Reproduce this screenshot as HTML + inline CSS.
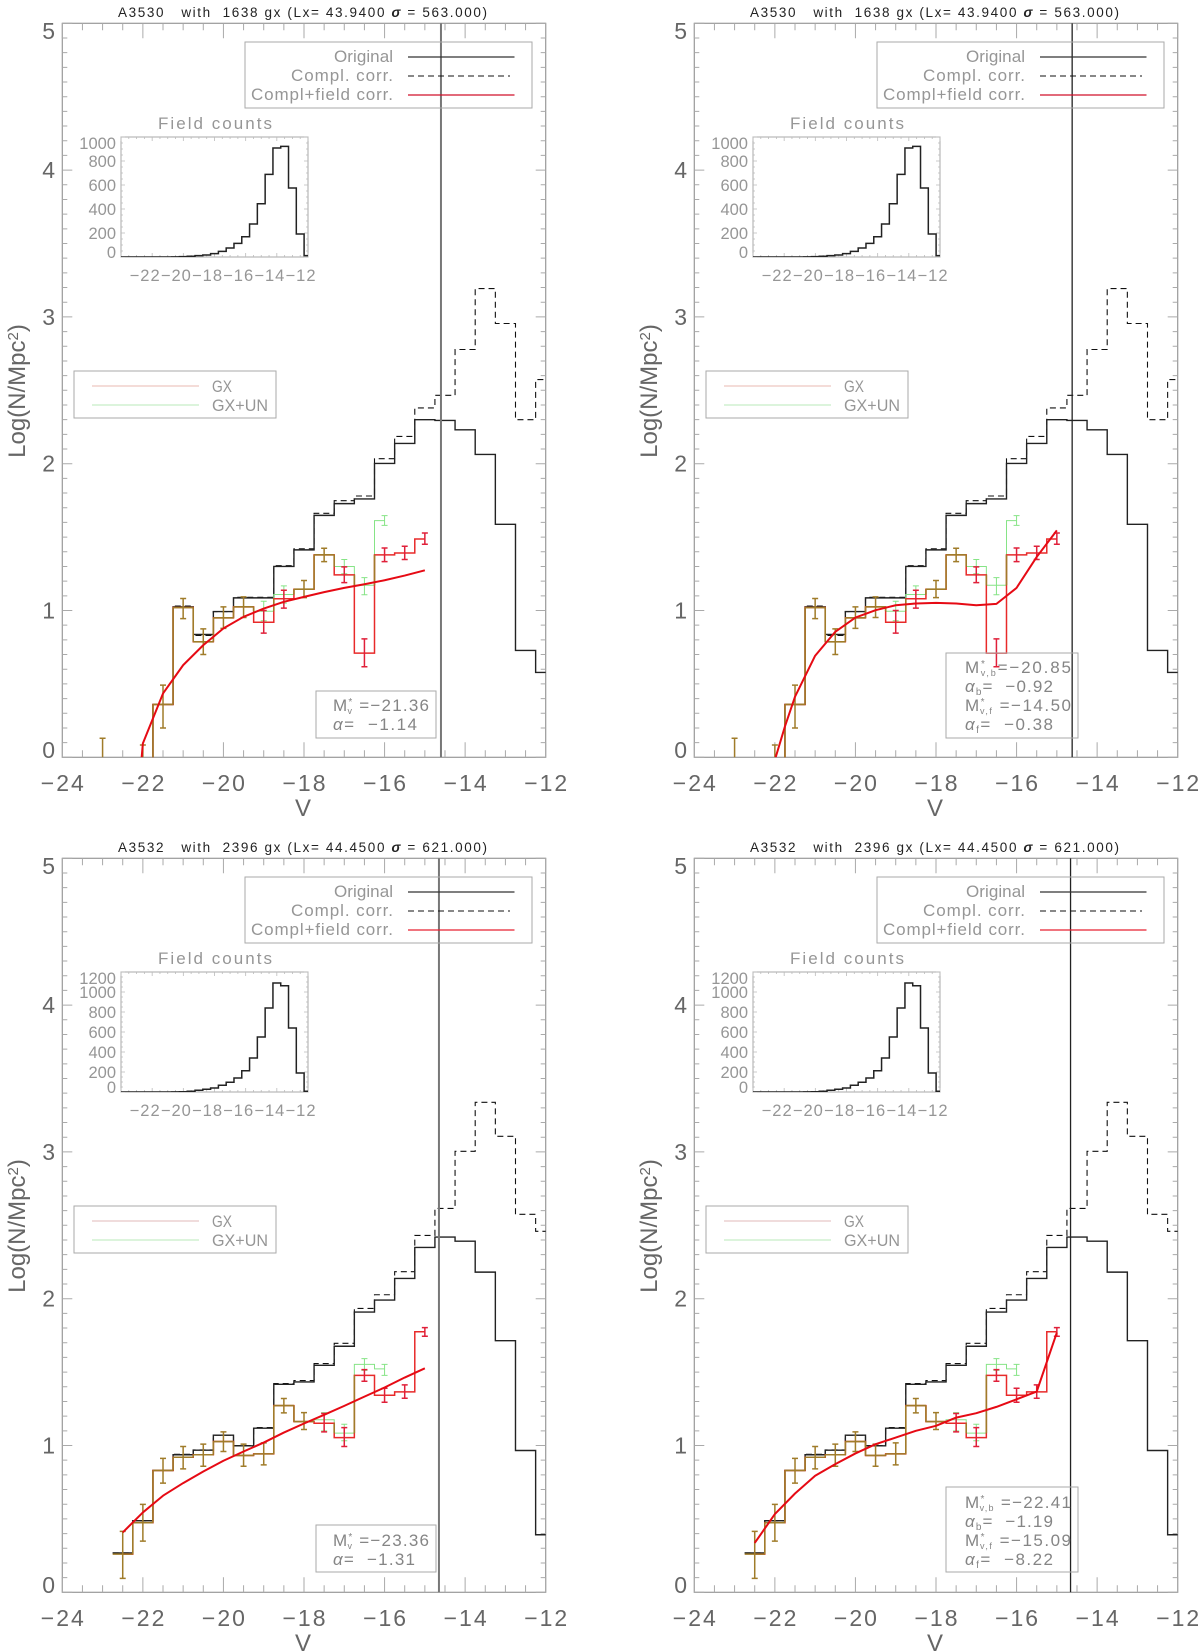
<!DOCTYPE html>
<html lang="en">
<head>
<meta charset="utf-8">
<title>Cluster luminosity functions</title>
<style>
html,body{margin:0;padding:0;background:#fff}
svg{display:block}
text{font-family:"Liberation Sans",sans-serif;white-space:pre}
.title{font-size:13.5px;fill:#222}
.axis-title{font-size:24px;fill:#666}
.legend{font-size:17px;fill:#969696}
.info{font-size:17px;fill:#858585}
.tick{font-size:23px;fill:#666}
.inset-tick{font-size:16.5px;fill:#969696}
.box{fill:none;stroke:#aaa;stroke-width:1}
</style>
</head>
<body>
<svg id="figure" xmlns="http://www.w3.org/2000/svg" width="1200" height="1652" viewBox="0 0 1200 1652">
<rect width="1200" height="1652" fill="#fff"/>
<defs><clipPath id="plot-clip"><rect x="62.3" y="23.3" width="483.4" height="734"/></clipPath><clipPath id="inset-clip"><rect x="121" y="137" width="187" height="120"/></clipPath></defs>

<g id="panel-0" transform="translate(0,0)">
<g class="marks"></g>
<text class="title" x="118" y="17" textLength="369">A3530   with  1638 gx (Lx= 43.9400 <tspan font-style="italic" font-weight="bold">σ</tspan> = 563.000)</text>
<text class="axis-title" transform="translate(25,391) rotate(-90)" text-anchor="middle">Log(N/Mpc<tspan dy="-7" font-size="15">2</tspan><tspan dy="7">)</tspan></text>
<text class="axis-title" x="303" y="816" text-anchor="middle">V</text>
<rect class="box" x="245" y="42" width="287" height="66"/>
<text class="legend" x="393" y="62" text-anchor="end" textLength="59">Original</text>
<text class="legend" x="393" y="81" text-anchor="end" textLength="102">Compl. corr.</text>
<text class="legend" x="393" y="100" text-anchor="end" textLength="142">Compl+field corr.</text>
<line x1="408" x2="514.5" y1="57" y2="57" stroke="#333" stroke-width="1.3"/>
<line x1="408" x2="510" y1="76" y2="76" stroke="#111" stroke-width="1.1" stroke-dasharray="6 4"/>
<line x1="408" x2="514.5" y1="95" y2="95" stroke="#d0102a" stroke-width="1.3"/>
<rect class="box" x="74" y="371" width="202" height="47"/>
<line x1="92" x2="199" y1="386" y2="386" stroke="#e8b8b0"/>
<line x1="92" x2="199" y1="405" y2="405" stroke="#b8e8b8"/>
<text class="legend" x="212" y="392" textLength="20" lengthAdjust="spacingAndGlyphs">GX</text>
<text class="legend" x="212" y="411" textLength="56" lengthAdjust="spacingAndGlyphs">GX+UN</text>
<text class="legend" x="215" y="129" text-anchor="middle" textLength="114">Field counts</text>
<rect class="box" x="316" y="691" width="120" height="47" fill="none"/>
<text class="info" x="333" y="711" textLength="96">M<tspan dy="-6" font-size="10">*</tspan><tspan dy="9" dx="-6" font-size="9">v</tspan><tspan dy="-3"> =−21.36</tspan></text>
<text class="info" x="333" y="730" textLength="84"><tspan font-style="italic">α</tspan>=  −1.14</text>
</g>

<g id="panel-1" transform="translate(632,0)">
<g class="marks"></g>
<text class="title" x="118" y="17" textLength="369">A3530   with  1638 gx (Lx= 43.9400 <tspan font-style="italic" font-weight="bold">σ</tspan> = 563.000)</text>
<text class="axis-title" transform="translate(25,391) rotate(-90)" text-anchor="middle">Log(N/Mpc<tspan dy="-7" font-size="15">2</tspan><tspan dy="7">)</tspan></text>
<text class="axis-title" x="303" y="816" text-anchor="middle">V</text>
<rect class="box" x="245" y="42" width="287" height="66"/>
<text class="legend" x="393" y="62" text-anchor="end" textLength="59">Original</text>
<text class="legend" x="393" y="81" text-anchor="end" textLength="102">Compl. corr.</text>
<text class="legend" x="393" y="100" text-anchor="end" textLength="142">Compl+field corr.</text>
<line x1="408" x2="514.5" y1="57" y2="57" stroke="#333" stroke-width="1.3"/>
<line x1="408" x2="510" y1="76" y2="76" stroke="#111" stroke-width="1.1" stroke-dasharray="6 4"/>
<line x1="408" x2="514.5" y1="95" y2="95" stroke="#d0102a" stroke-width="1.3"/>
<rect class="box" x="74" y="371" width="202" height="47"/>
<line x1="92" x2="199" y1="386" y2="386" stroke="#e8b8b0"/>
<line x1="92" x2="199" y1="405" y2="405" stroke="#b8e8b8"/>
<text class="legend" x="212" y="392" textLength="20" lengthAdjust="spacingAndGlyphs">GX</text>
<text class="legend" x="212" y="411" textLength="56" lengthAdjust="spacingAndGlyphs">GX+UN</text>
<text class="legend" x="215" y="129" text-anchor="middle" textLength="114">Field counts</text>
<rect class="box" x="314" y="653" width="132" height="85"/>
<text class="info" x="333" y="673" textLength="106">M<tspan dy="-6" font-size="10">*</tspan><tspan dy="9" dx="-6" font-size="9">v,b</tspan><tspan dy="-3">=−20.85</tspan></text>
<text class="info" x="333" y="692" textLength="88"><tspan font-style="italic">α</tspan><tspan dy="3" font-size="10">b</tspan><tspan dy="-3">=  −0.92</tspan></text>
<text class="info" x="333" y="711" textLength="106">M<tspan dy="-6" font-size="10">*</tspan><tspan dy="9" dx="-6" font-size="9">v,f</tspan><tspan dy="-3"> =−14.50</tspan></text>
<text class="info" x="333" y="730" textLength="88"><tspan font-style="italic">α</tspan><tspan dy="3" font-size="10">f</tspan><tspan dy="-3">=  −0.38</tspan></text>
</g>

<g id="panel-2" transform="translate(0,835)">
<g class="marks"></g>
<text class="title" x="118" y="17" textLength="369">A3532   with  2396 gx (Lx= 44.4500 <tspan font-style="italic" font-weight="bold">σ</tspan> = 621.000)</text>
<text class="axis-title" transform="translate(25,391) rotate(-90)" text-anchor="middle">Log(N/Mpc<tspan dy="-7" font-size="15">2</tspan><tspan dy="7">)</tspan></text>
<text class="axis-title" x="303" y="816" text-anchor="middle">V</text>
<rect class="box" x="245" y="42" width="287" height="66"/>
<text class="legend" x="393" y="62" text-anchor="end" textLength="59">Original</text>
<text class="legend" x="393" y="81" text-anchor="end" textLength="102">Compl. corr.</text>
<text class="legend" x="393" y="100" text-anchor="end" textLength="142">Compl+field corr.</text>
<line x1="408" x2="514.5" y1="57" y2="57" stroke="#333" stroke-width="1.3"/>
<line x1="408" x2="510" y1="76" y2="76" stroke="#111" stroke-width="1.1" stroke-dasharray="6 4"/>
<line x1="408" x2="514.5" y1="95" y2="95" stroke="#e82030" stroke-width="1.3"/>
<rect class="box" x="74" y="371" width="202" height="47"/>
<line x1="92" x2="199" y1="386" y2="386" stroke="#e0b8b8"/>
<line x1="92" x2="199" y1="405" y2="405" stroke="#b8e8b8"/>
<text class="legend" x="212" y="392" textLength="20" lengthAdjust="spacingAndGlyphs">GX</text>
<text class="legend" x="212" y="411" textLength="56" lengthAdjust="spacingAndGlyphs">GX+UN</text>
<text class="legend" x="215" y="129" text-anchor="middle" textLength="114">Field counts</text>
<rect class="box" x="316" y="690" width="120" height="47"/>
<text class="info" x="333" y="711" textLength="96">M<tspan dy="-6" font-size="10">*</tspan><tspan dy="9" dx="-6" font-size="9">v</tspan><tspan dy="-3"> =−23.36</tspan></text>
<text class="info" x="333" y="730" textLength="82"><tspan font-style="italic">α</tspan>=  −1.31</text>
</g>

<g id="panel-3" transform="translate(632,835)">
<g class="marks"></g>
<text class="title" x="118" y="17" textLength="369">A3532   with  2396 gx (Lx= 44.4500 <tspan font-style="italic" font-weight="bold">σ</tspan> = 621.000)</text>
<text class="axis-title" transform="translate(25,391) rotate(-90)" text-anchor="middle">Log(N/Mpc<tspan dy="-7" font-size="15">2</tspan><tspan dy="7">)</tspan></text>
<text class="axis-title" x="303" y="816" text-anchor="middle">V</text>
<rect class="box" x="245" y="42" width="287" height="66"/>
<text class="legend" x="393" y="62" text-anchor="end" textLength="59">Original</text>
<text class="legend" x="393" y="81" text-anchor="end" textLength="102">Compl. corr.</text>
<text class="legend" x="393" y="100" text-anchor="end" textLength="142">Compl+field corr.</text>
<line x1="408" x2="514.5" y1="57" y2="57" stroke="#333" stroke-width="1.3"/>
<line x1="408" x2="510" y1="76" y2="76" stroke="#111" stroke-width="1.1" stroke-dasharray="6 4"/>
<line x1="408" x2="514.5" y1="95" y2="95" stroke="#e82030" stroke-width="1.3"/>
<rect class="box" x="74" y="371" width="202" height="47"/>
<line x1="92" x2="199" y1="386" y2="386" stroke="#e0b8b8"/>
<line x1="92" x2="199" y1="405" y2="405" stroke="#b8e8b8"/>
<text class="legend" x="212" y="392" textLength="20" lengthAdjust="spacingAndGlyphs">GX</text>
<text class="legend" x="212" y="411" textLength="56" lengthAdjust="spacingAndGlyphs">GX+UN</text>
<text class="legend" x="215" y="129" text-anchor="middle" textLength="114">Field counts</text>
<rect class="box" x="314" y="652" width="132" height="85"/>
<text class="info" x="333" y="673" textLength="106">M<tspan dy="-6" font-size="10">*</tspan><tspan dy="9" dx="-6" font-size="9">v,b</tspan><tspan dy="-3"> =−22.41</tspan></text>
<text class="info" x="333" y="692" textLength="88"><tspan font-style="italic">α</tspan><tspan dy="3" font-size="10">b</tspan><tspan dy="-3">=  −1.19</tspan></text>
<text class="info" x="333" y="711" textLength="106">M<tspan dy="-6" font-size="10">*</tspan><tspan dy="9" dx="-6" font-size="9">v,f</tspan><tspan dy="-3"> =−15.09</tspan></text>
<text class="info" x="333" y="730" textLength="88"><tspan font-style="italic">α</tspan><tspan dy="3" font-size="10">f</tspan><tspan dy="-3">=  −8.22</tspan></text>
</g>
</svg>

<script>
// Bin centres (V magnitude)
const binCenters = [-23,-22.5,-22,-21.5,-21,-20.5,-20,-19.5,-19,-18.5,-18,-17.5,-17,-16.5,-16,-15.5,-15,-14.5,-14,-13.5,-13,-12.5,-12];
const fieldBinCenters = [-24,-23.5,-23,-22.5,-22,-21.5,-21,-20.5,-20,-19.5,-19,-18.5,-18,-17.5,-17,-16.5,-16,-15.5,-15,-14.5,-14,-13.5,-13,-12.5,-12];

// Axis tick labels
const xTickValues = [-24,-22,-20,-18,-16,-14,-12];
const yTickValues = [0,1,2,3,4,5];
const insetXTickValues = [-22,-20,-18,-16,-14,-12];
const a3530FieldTicks = [0,200,400,600,800,1000];
const a3532FieldTicks = [0,200,400,600,800,1000,1200];

// A3530 series
const a3530Original = [null,null,-1,0.36,1.025,0.837,0.993,1.086,1.086,1.30,1.413,1.648,1.728,1.76,2.002,2.138,2.30,2.295,2.231,2.063,1.587,0.728,0.578];
const a3530Compl = [null,null,-1,0.36,1.03,0.83,0.993,1.09,1.09,1.305,1.42,1.662,1.748,1.78,2.034,2.186,2.38,2.466,2.778,3.193,2.955,2.30,2.573];
const a3530Gx = [-0.2,-1,-0.3,0.36,1.02,0.787,0.95,1.025,0.92,1.08,1.145,1.379,1.243,0.71,1.379,1.392,1.487];
const a3530GxLow = [-0.3,null,-0.3,0.2,0.945,0.70,0.878,0.952,0.846,1.016,1.088,1.333,1.19,0.617,1.333,1.347,1.451];
const a3530GxHigh = [0.13,null,0.084,0.492,1.082,0.875,1.025,1.093,1.0,1.138,1.204,1.424,1.297,0.807,1.426,1.438,1.528];
const a3530GxUn = [-0.2,-1,-0.3,0.36,1.02,0.787,0.95,1.025,0.995,1.109,1.145,1.379,1.30,1.172,1.612];
const a3530GxUnLow = [null,null,null,null,null,null,null,null,0.93,1.05,null,null,1.25,1.107,1.58];
const a3530GxUnHigh = [null,null,null,null,null,null,null,null,1.063,1.168,null,null,1.347,1.224,1.646];
const a3530Field = [0,0,0,0,0,0,0,1,3,6,11,17,28,47,75,114,169,275,444,689,908,922,575,192,11];
const a3530FitSingleV = [-22.03,-22,-21.5,-21,-20.5,-20,-19.5,-19,-18.5,-18,-17.5,-17,-16.5,-16,-15.5,-15];
const a3530FitSingle = [0,0.095,0.435,0.628,0.764,0.878,0.957,1.013,1.059,1.093,1.125,1.154,1.179,1.206,1.238,1.274];
const a3530FitDoubleV = [-21.98,-21.75,-21.5,-21,-20.5,-20,-19.5,-19,-18.5,-18,-17.5,-17,-16.5,-16,-15.5,-15];
const a3530FitDouble = [0,0.21,0.413,0.692,0.855,0.952,1.002,1.036,1.048,1.052,1.048,1.036,1.045,1.154,1.365,1.546];

// A3532 series
const a3532Original = [null,0.268,0.488,0.83,0.937,0.968,1.07,0.998,1.118,1.417,1.433,1.546,1.676,1.909,1.991,2.138,2.349,2.42,2.392,2.181,1.714,0.966,0.392];
const a3532Compl = [null,0.268,0.488,0.83,0.94,0.97,1.07,1.0,1.122,1.422,1.442,1.558,1.696,1.934,2.027,2.184,2.431,2.615,3.004,3.338,3.106,2.575,2.459];
const a3532Gx = [null,0.26,0.474,0.83,0.92,0.937,1.027,0.932,0.943,1.272,1.163,1.152,1.054,1.478,1.342,1.365,1.775];
const a3532GxLow = [null,0.095,0.349,0.744,0.841,0.859,0.959,0.859,0.868,1.222,1.109,1.093,0.993,1.438,1.295,1.322,1.744];
const a3532GxHigh = [null,0.415,0.599,0.912,0.993,1.009,1.093,1.009,1.018,1.32,1.224,1.218,1.122,1.517,1.39,1.413,1.803];
const a3532GxUn = [null,0.26,0.474,0.83,0.92,0.937,1.027,0.932,0.943,1.272,1.163,1.175,1.084,1.553,1.522];
const a3532GxUnLow = [null,null,null,null,null,null,null,null,null,null,null,1.10,1.032,1.512,1.478];
const a3532GxUnHigh = [null,null,null,null,null,null,null,null,null,null,null,1.224,1.145,1.592,1.553];
const a3532Field = [0,0,0,0,0,0,0,1,3,7,17,27,40,67,97,140,213,340,550,840,1090,1063,640,190,7];
const a3532FitV = [-22.5,-22,-21.5,-21,-20.5,-20,-19.5,-19,-18.5,-18,-17.5,-17,-16.5,-16,-15.5,-15];
const a3532FitSingle = [0.408,0.544,0.658,0.744,0.823,0.896,0.959,1.02,1.088,1.15,1.209,1.27,1.333,1.395,1.463,1.526];
const a3532FitDouble = [0.336,0.533,0.673,0.794,0.873,0.946,1.009,1.054,1.1,1.134,1.19,1.22,1.263,1.315,1.367,1.769];

// Completeness limit per panel
const completenessLimits = [-14.6,-14.62,-14.65,-14.66];

const panels = [
  {original:a3530Original,compl:a3530Compl,gx:a3530Gx,gxLow:a3530GxLow,gxHigh:a3530GxHigh,gxun:a3530GxUn,gxunLow:a3530GxUnLow,gxunHigh:a3530GxUnHigh,field:a3530Field,fieldTicks:a3530FieldTicks,fieldMax:1000,fitV:a3530FitSingleV,fit:a3530FitSingle,lineColor:'#777',lineWidth:2},
  {original:a3530Original,compl:a3530Compl,gx:a3530Gx,gxLow:a3530GxLow,gxHigh:a3530GxHigh,gxun:a3530GxUn,gxunLow:a3530GxUnLow,gxunHigh:a3530GxUnHigh,field:a3530Field,fieldTicks:a3530FieldTicks,fieldMax:1000,fitV:a3530FitDoubleV,fit:a3530FitDouble,lineColor:'#222',lineWidth:1.3},
  {original:a3532Original,compl:a3532Compl,gx:a3532Gx,gxLow:a3532GxLow,gxHigh:a3532GxHigh,gxun:a3532GxUn,gxunLow:a3532GxUnLow,gxunHigh:a3532GxUnHigh,field:a3532Field,fieldTicks:a3532FieldTicks,fieldMax:1200,fitV:a3532FitV,fit:a3532FitSingle,lineColor:'#777',lineWidth:2},
  {original:a3532Original,compl:a3532Compl,gx:a3532Gx,gxLow:a3532GxLow,gxHigh:a3532GxHigh,gxun:a3532GxUn,gxunLow:a3532GxUnLow,gxunHigh:a3532GxUnHigh,field:a3532Field,fieldTicks:a3532FieldTicks,fieldMax:1200,fitV:a3532FitV,fit:a3532FitDouble,lineColor:'#222',lineWidth:1.3}
];

const NS = 'http://www.w3.org/2000/svg';
const BROWN = '#a07c2a', RED = '#e82a2a', GREEN = '#86e486';
const xScale = v => 62.3 + (v + 24) * (483.4 / 12);
const yScale = v => 757.3 - v * 146.8;
const insetX = v => 121 + (v + 24) * (187 / 12);
const insetY = (c, max) => 257 - c / max * 120;

function make(parent, tag, attrs) {
  const el = document.createElementNS(NS, tag);
  for (const k in attrs) el.setAttribute(k, attrs[k]);
  parent.appendChild(el);
  return el;
}
function seg(d, x1, y1, x2, y2) { return d + 'M' + x1.toFixed(2) + ' ' + y1.toFixed(2) + 'L' + x2.toFixed(2) + ' ' + y2.toFixed(2); }
function f(n){ return n.toFixed(2); }

// Full-bin step path: each bin drawn edge to edge
function fullStep(values) {
  let d = '', started = false;
  values.forEach((v, i) => {
    if (v === null) return;
    const c = binCenters[i];
    d += (started ? 'L' : 'M') + f(xScale(c - 0.25)) + ' ' + f(yScale(v)) + 'L' + f(xScale(c + 0.25)) + ' ' + f(yScale(v));
    started = true;
  });
  return d;
}
// Centre-terminated step path (first and last bins start/stop at bin centre)
function centerStep(values) {
  let d = '', started = false, lastIdx = -1;
  values.forEach((v, i) => { if (v !== null) lastIdx = i; });
  values.forEach((v, i) => {
    if (v === null) return;
    const c = binCenters[i];
    const left = started ? c - 0.25 : c;
    const right = i === lastIdx ? c : c + 0.25;
    d += (started ? 'L' : 'M') + f(xScale(left)) + ' ' + f(yScale(v)) + 'L' + f(xScale(right)) + ' ' + f(yScale(v));
    started = true;
  });
  return d;
}
// Segments where GX and GX+UN coincide
function overlapPath(a, b) {
  let d = '';
  a.forEach((v, i) => {
    const w = b[i];
    if (v === null || w === undefined || w === null) return;
    const c = binCenters[i];
    if (v === w) d = seg(d, xScale(c - 0.25), yScale(v), xScale(c + 0.25), yScale(v));
    const nv = a[i + 1], nw = b[i + 1];
    if (nv === undefined || nw === undefined || nv === null || nw === null) return;
    const lo = Math.max(Math.min(v, nv), Math.min(w, nw));
    const hi = Math.min(Math.max(v, nv), Math.max(w, nw));
    if (hi > lo) d = seg(d, xScale(c + 0.25), yScale(lo), xScale(c + 0.25), yScale(hi));
  });
  return d;
}
function errPath(centers, low, high) {
  let d = '';
  centers.forEach((c, i) => {
    if (low[i] === null || low[i] === undefined) return;
    const x = xScale(c);
    d = seg(d, x, yScale(low[i]), x, yScale(high[i]));
    d = seg(d, x - 3, yScale(high[i]), x + 3, yScale(high[i]));
    if (low[i] > -0.05) d = seg(d, x - 3, yScale(low[i]), x + 3, yScale(low[i]));
  });
  return d;
}

panels.forEach((p, idx) => {
  const root = document.querySelector('#panel-' + idx + ' .marks');

  // Plot frame
  const frame = make(root, 'rect', {x:62.3,y:23.3,width:483.4,height:734,fill:'none',stroke:'#999','stroke-width':1.2});
  
  

  // Ticks
  let td = '';
  for (let k = 0; k <= 24; k++) {
    const v = -24 + k * 0.5;
    const len = (k % 4 === 0) ? 15 : 7;
    const x = xScale(v);
    td = seg(td, x, 757.3, x, 757.3 - len);
    td = seg(td, x, 23.3, x, 23.3 + len);
  }
  for (let k = 0; k <= 50; k++) {
    const v = k * 0.1;
    const len = (k % 10 === 0) ? 10 : 5;
    const y = yScale(v);
    td = seg(td, 62.3, y, 62.3 + len, y);
    td = seg(td, 545.7, y, 545.7 - len, y);
  }
  const ticks = make(root, 'path', {d:td,fill:'none',stroke:'#aaa','stroke-width':1});
  
  

  xTickValues.forEach(v => {
    const t = make(root, 'text', {x:xScale(v),y:791,'text-anchor':'middle','class':'tick',textLength:43});
    t.textContent = '\u2212' + Math.abs(v);
    
    
  });
  yTickValues.forEach(v => {
    const y = Math.max(31, Math.min(750, yScale(v))) + 8;
    const t = make(root, 'text', {x:55,y:y,'text-anchor':'end','class':'tick'});
    t.textContent = String(v);
    
    
  });

  const plot = make(root, 'g', {'clip-path':'url(#plot-clip)'});

  const compl = make(plot, 'path', {d:fullStep(p.compl),fill:'none',stroke:'#111','stroke-width':1.1,'stroke-dasharray':'6 4'});
  
  

  const orig = make(plot, 'path', {d:fullStep(p.original),fill:'none',stroke:'#222','stroke-width':1.4});
  
  

  const gxun = make(plot, 'path', {d:centerStep(p.gxun),fill:'none',stroke:GREEN,'stroke-width':1});
  
  

  const gxunErr = make(plot, 'path', {d:errPath(binCenters, p.gxunLow, p.gxunHigh),fill:'none',stroke:GREEN,'stroke-width':1});
  
  

  const gx = make(plot, 'path', {d:centerStep(p.gx),fill:'none',stroke:RED,'stroke-width':1.5});
  
  

  const sharedLow = p.gxLow.map((v, i) => (p.gxun[i] === p.gx[i] && p.gxun[i] !== undefined && p.gxunLow[i] === null) ? v : null);
  const ownLow = p.gxLow.map((v, i) => sharedLow[i] === null ? v : null);
  const gxErr = make(plot, 'path', {d:errPath(binCenters, ownLow, p.gxHigh),fill:'none',stroke:'#e0203a','stroke-width':1.5});
  
  

  const overlap = make(plot, 'path', {d:overlapPath(p.gx, p.gxun),fill:'none',stroke:BROWN,'stroke-width':1.6});
  
  

  const sharedErr = make(plot, 'path', {d:errPath(binCenters, sharedLow, p.gxHigh),fill:'none',stroke:BROWN,'stroke-width':1.5});
  
  

  const fitD = p.fitV.map((v, i) => (i ? 'L' : 'M') + f(xScale(v)) + ' ' + f(yScale(p.fit[i]))).join('');
  const fit = make(plot, 'path', {d:fitD,fill:'none',stroke:'#e60a14','stroke-width':2,'stroke-linejoin':'round'});
  
  

  const limitX = xScale(completenessLimits[idx]);
  const limit = make(plot, 'line', {x1:limitX,x2:limitX,y1:23.3,y2:757.3,stroke:p.lineColor,'stroke-width':p.lineWidth});
  
  

  // Inset: field counts
  const inset = make(root, 'g', {});
  
  
  const ibox = make(inset, 'rect', {x:121,y:137,width:187,height:120,fill:'none',stroke:'#aaa','stroke-width':1});
  
  
  let itd = '';
  for (let k = 0; k <= 24; k++) {
    const x = insetX(-24 + k * 0.5);
    const len = (k % 4 === 0) ? 4 : 2;
    itd = seg(itd, x, 257, x, 257 - len);
    itd = seg(itd, x, 137, x, 137 + len);
  }
  for (let c = 0; c <= p.fieldMax; c += 50) {
    const y = insetY(c, p.fieldMax);
    const len = (c % 200 === 0) ? 4 : 2;
    itd = seg(itd, 121, y, 121 + len, y);
    itd = seg(itd, 308, y, 308 - len, y);
  }
  const iticks = make(inset, 'path', {d:itd,fill:'none',stroke:'#bbb','stroke-width':0.8});
  
  
  insetXTickValues.forEach(v => {
    const t = make(inset, 'text', {x:insetX(v) - 7.5,y:281,'text-anchor':'middle','class':'inset-tick',textLength:30});
    t.textContent = '\u2212' + Math.abs(v);
    
    
  });
  p.fieldTicks.forEach(c => {
    const y = Math.max(143, Math.min(252, insetY(c, p.fieldMax))) + 6;
    const t = make(inset, 'text', {x:116,y:y,'text-anchor':'end','class':'inset-tick'});
    t.textContent = String(c);
    
    
  });
  let hd = '';
  p.field.forEach((c, i) => {
    const v = fieldBinCenters[i];
    const left = i === 0 ? v : v - 0.25;
    hd += (i ? 'L' : 'M') + f(insetX(left)) + ' ' + f(insetY(c, p.fieldMax)) + 'L' + f(insetX(v + 0.25)) + ' ' + f(insetY(c, p.fieldMax));
  });
  const ihist = make(inset, 'path', {d:hd,fill:'none',stroke:'#222','stroke-width':1.5,'clip-path':'url(#inset-clip)'});
  
  
});
</script>
</body>
</html>
